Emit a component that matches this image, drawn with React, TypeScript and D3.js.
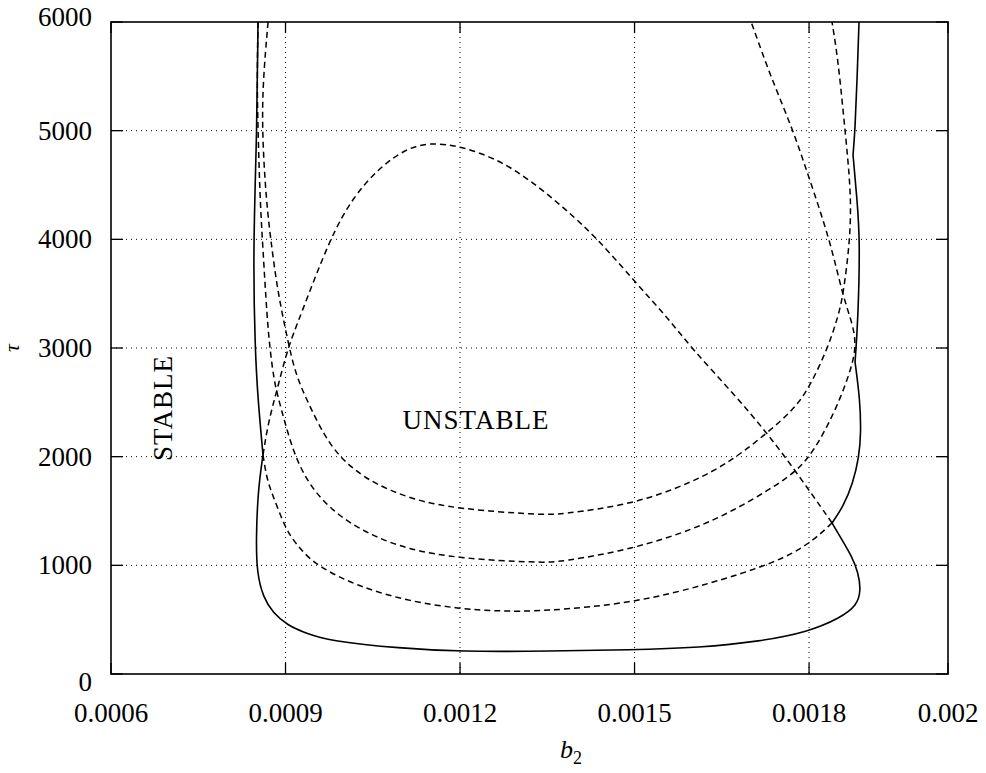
import * as d3 from 'd3';
import React, { useEffect, useRef } from 'react';

// b2 / tau pairs
const solidLeft: Array<[number, number]> = [
    [0.0008527, 6000], [0.000851, 5006], [0.0008441, 3902], [0.0008476, 2982],
    [0.0008527, 2521], [0.0008613, 2015]
];
const solidBottom: Array<[number, number]> = [
    [0.0008613, 2015], [0.0008527, 1693], [0.0008493, 1233], [0.000851, 929],
    [0.0008613, 709], [0.0008785, 561], [0.0009026, 451], [0.000937, 370],
    [0.0009765, 305], [0.0010968, 236], [0.0012, 205], [0.0013547, 210],
    [0.0014923, 221], [0.0016126, 243], [0.0017158, 300], [0.0017983, 387],
    [0.0018446, 515], [0.0018691, 630], [0.0018748, 773], [0.0018705, 939],
    [0.0018619, 1077], [0.0018475, 1233], [0.0018331, 1390]
];
const solidRight: Array<[number, number]> = [
    [0.0018331, 1390], [0.0018489, 1537], [0.0018633, 1758], [0.0018719, 1997],
    [0.0018748, 2218], [0.0018734, 2521], [0.0018662, 2871]
];
const solidTop: Array<[number, number]> = [
    [0.0018662, 2871], [0.0018705, 3258], [0.0018734, 3994], [0.0018691, 4362],
    [0.0018633, 4776]
];
const solidEnd: Array<[number, number]> = [
    [0.0018633, 4776], [0.0018662, 5006], [0.0018691, 5466], [0.0018719, 6000]
];

const dashUpper: Array<[number, number]> = [
    [0.00087, 6000], [0.0008613, 5466], [0.0008596, 5006], [0.0008665, 4362],
    [0.0008768, 3902], [0.0008871, 3506], [0.0009026, 3101], [0.0009163, 2770],
    [0.0009387, 2494], [0.0009679, 2181], [0.0009937, 1997], [0.0010195, 1877],
    [0.0010504, 1758], [0.0011192, 1601], [0.0011983, 1518], [0.0013375, 1465],
    [0.0013719, 1468], [0.0014974, 1560], [0.0016006, 1765], [0.0016693, 1969],
    [0.0017278, 2218], [0.0017725, 2429], [0.0017983, 2614], [0.0018259, 2982],
    [0.0018403, 3258], [0.0018489, 3469], [0.001859, 3994], [0.0018604, 4362],
    [0.0018561, 4730], [0.0018489, 5190], [0.0018417, 5650], [0.0018331, 6000]
];
const dashMiddle: Array<[number, number]> = [
    [0.0008527, 6000], [0.000851, 5466], [0.0008527, 5006], [0.0008562, 4362],
    [0.0008613, 3902], [0.0008682, 3285], [0.0008734, 2982], [0.0008802, 2706],
    [0.0008871, 2549], [0.0008991, 2310], [0.0009163, 1997], [0.0009456, 1693],
    [0.0009937, 1440], [0.0010504, 1270], [0.0011089, 1150], [0.0011983, 1062],
    [0.0013375, 1025], [0.0013719, 1030], [0.0014974, 1150], [0.0016006, 1330],
    [0.0016693, 1500], [0.001745, 1739], [0.0017793, 1877], [0.0017983, 1988],
    [0.0018158, 2153], [0.0018403, 2457], [0.0018619, 2825], [0.0018676, 3028],
    [0.0018633, 3212], [0.0018489, 3469], [0.0018302, 3994], [0.0017983, 4592],
    [0.0017725, 5006], [0.0017329, 5512], [0.0017037, 5954], [0.0017003, 6000]
];
const dashLower: Array<[number, number]> = [
    [0.0008613, 2015], [0.0008682, 1785], [0.0008785, 1640], [0.000894, 1420],
    [0.0009077, 1270], [0.0009284, 1130], [0.0009558, 990], [0.0010229, 810],
    [0.0011089, 672], [0.0011983, 600], [0.0012688, 578], [0.0013375, 575],
    [0.0014974, 650], [0.0016298, 830], [0.001745, 1030], [0.0018014, 1200],
    [0.0018331, 1390]
];
const dashDome: Array<[number, number]> = [
    [0.0018331, 1390], [0.0017793, 1850], [0.0017278, 2218], [0.0016693, 2586],
    [0.0016006, 2982], [0.0015559, 3285], [0.0015009, 3607], [0.0014355, 4012],
    [0.0013771, 4298], [0.0013203, 4546], [0.0012636, 4740], [0.0012, 4860],
    [0.0011484, 4890], [0.0011089, 4840], [0.0010625, 4666], [0.0010161, 4390],
    [0.0009765, 4012], [0.0009249, 3285], [0.0009043, 3009], [0.0008854, 2614],
    [0.00087, 2310], [0.0008613, 2015]
];

const tauTicks = [0, 1000, 2000, 3000, 4000, 5000, 6000];
const b2Ticks = [0.0006, 0.0009, 0.0012, 0.0015, 0.0018, 0.002];
const b2Labels = ['0.0006', '0.0009', '0.0012', '0.0015', '0.0018', '0.002'];

const dims = { width: 986, height: 773, left: 111, right: 948, top: 22, bottom: 674 };
const font = 'Liberation Serif, DejaVu Serif, serif';

/**
 * Stability chart.
 */
export default function App() {
    const ref = useRef<SVGSVGElement>(null);

    useEffect(() => {
        const svg = d3.select(ref.current);
        svg.selectAll('*').remove();

        // the original axis is stretched past 0.0018
        const xBreak = dims.left + (dims.right - dims.left) * 0.834;
        const x = d3.scaleLinear()
            .domain([ 0.0006, 0.0018, 0.002 ])
            .range([ dims.left, xBreak, dims.right ]);
        const y = d3.scaleLinear()
            .domain([ 0, 6000 ])
            .range([ dims.bottom, dims.top ]);

        // grid
        const grid = svg.append('g')
            .attr('stroke', '#000')
            .attr('stroke-width', 1)
            .attr('stroke-dasharray', '1 4');
        grid.selectAll('.gx')
            .data(b2Ticks.slice(1, -1))
            .enter()
            .append('line')
            .attr('x1', d => x(d))
            .attr('x2', d => x(d))
            .attr('y1', dims.top)
            .attr('y2', dims.bottom);
        grid.selectAll('.gy')
            .data(tauTicks.slice(1, -1))
            .enter()
            .append('line')
            .attr('y1', d => y(d))
            .attr('y2', d => y(d))
            .attr('x1', dims.left)
            .attr('x2', dims.right);

        // tick marks
        const ticks = svg.append('g').attr('stroke', '#000').attr('stroke-width', 1.3);
        b2Ticks.forEach(v => {
            ticks.append('line').attr('x1', x(v)).attr('x2', x(v))
                .attr('y1', dims.bottom).attr('y2', dims.bottom - 11);
            ticks.append('line').attr('x1', x(v)).attr('x2', x(v))
                .attr('y1', dims.top).attr('y2', dims.top + 11);
        });
        tauTicks.forEach(v => {
            ticks.append('line').attr('y1', y(v)).attr('y2', y(v))
                .attr('x1', dims.left).attr('x2', dims.left + 12);
            ticks.append('line').attr('y1', y(v)).attr('y2', y(v))
                .attr('x1', dims.right).attr('x2', dims.right - 12);
        });

        // curves
        const line = d3.line<[number, number]>()
            .x(d => x(d[0]))
            .y(d => y(d[1]))
            .curve(d3.curveBasis);

        const plot = svg.append('g').attr('fill', 'none').attr('stroke', '#000');

        [ dashUpper, dashMiddle, dashLower, dashDome ].forEach(data => {
            plot.append('path')
                .attr('d', line(data))
                .attr('stroke-width', 1.5)
                .attr('stroke-dasharray', '6 4');
        });
        [ solidLeft, solidBottom, solidRight, solidTop, solidEnd ].forEach(data => {
            plot.append('path')
                .attr('d', line(data))
                .attr('stroke-width', 1.6);
        });

        // frame
        svg.append('rect')
            .attr('x', dims.left)
            .attr('y', dims.top)
            .attr('width', dims.right - dims.left)
            .attr('height', dims.bottom - dims.top)
            .attr('fill', 'none')
            .attr('stroke', '#000')
            .attr('stroke-width', 1.6);

        // tick labels
        const labels = svg.append('g')
            .style('font-family', font)
            .attr('font-size', 27)
            .attr('fill', '#000');
        labels.selectAll('.ty')
            .data(tauTicks)
            .enter()
            .append('text')
            .attr('x', 92)
            .attr('y', d => y(d) + 9 + (d === 0 ? 8 : d === 6000 ? -5 : 0))
            .attr('text-anchor', 'end')
            .text(d => `${d}`);
        labels.selectAll('.tx')
            .data(b2Ticks)
            .enter()
            .append('text')
            .attr('x', d => x(d))
            .attr('y', 722)
            .attr('text-anchor', 'middle')
            .text((_, i) => b2Labels[i]);

        // axis titles
        const xt = svg.append('text')
            .attr('x', 560)
            .attr('y', 758)
            .style('font-family', font)
            .attr('font-size', 26);
        xt.append('tspan').attr('font-style', 'italic').text('b');
        xt.append('tspan').attr('font-size', 18).attr('dy', 6).text('2');

        svg.append('text')
            .attr('transform', 'translate(19, 348) rotate(-90)')
            .attr('text-anchor', 'middle')
            .style('font-family', font)
            .attr('font-style', 'italic')
            .attr('font-size', 22)
            .text('τ');

        // region names
        svg.append('text')
            .attr('transform', 'translate(172, 408) rotate(-90)')
            .attr('text-anchor', 'middle')
            .style('font-family', font)
            .attr('font-size', 27)
            .attr('letter-spacing', 1)
            .text('STABLE');
        svg.append('text')
            .attr('x', 476)
            .attr('y', 429)
            .attr('text-anchor', 'middle')
            .style('font-family', font)
            .attr('font-size', 27)
            .attr('letter-spacing', 1)
            .text('UNSTABLE');
    }, []);

    return (
        <svg
            ref={ref}
            width={dims.width}
            height={dims.height}
            style={{ position: 'absolute', left: 0, top: 0, background: '#fff' }}
        />
    );
}
